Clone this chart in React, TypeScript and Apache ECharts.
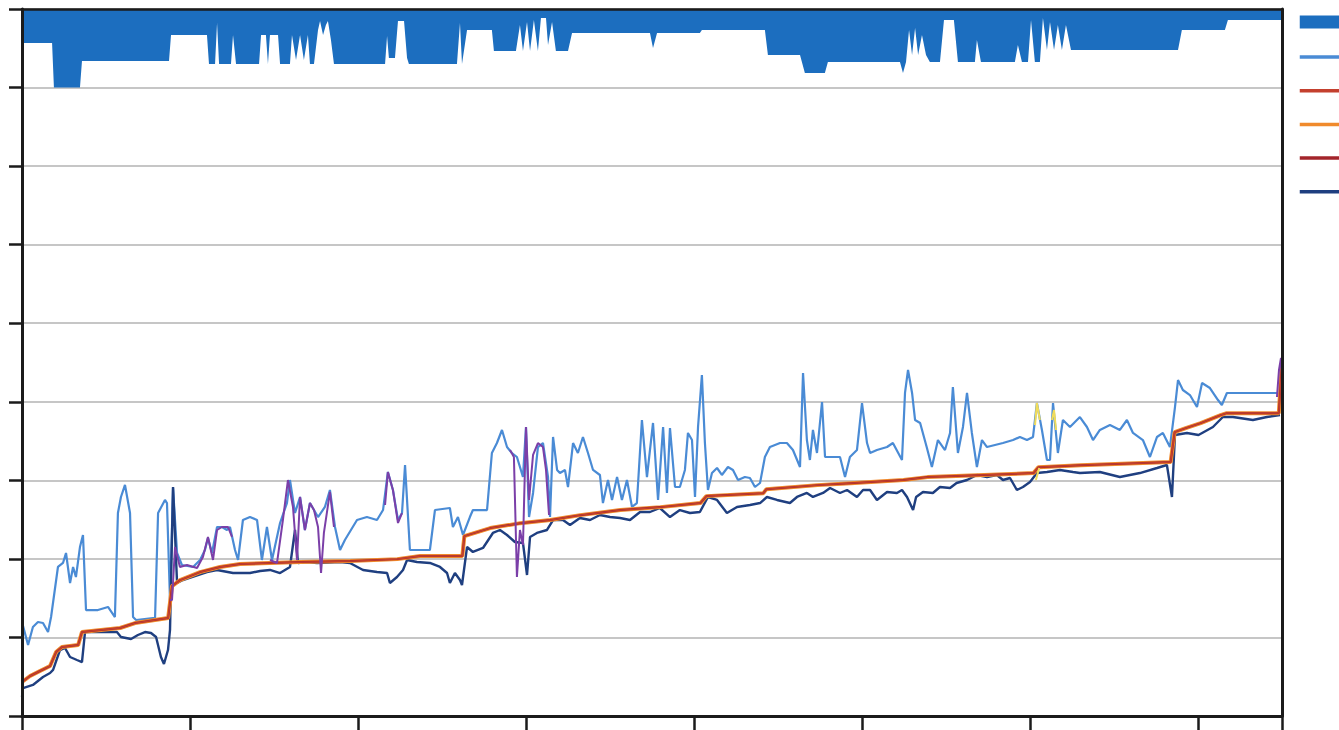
import React, { useEffect, useRef } from "react";
import * as echarts from "echarts";

// ---- top band (filled from the top of the plot down to these values) ----
const bandX = [0,17.9,19.0,34.5,35.7,87.5,88.7,110.1,111.3,114.9,116.1,117.3,124.4,125.6,127.4,141.1,142.3,145.2,146.4,147.6,152.4,153.6,159.5,160.7,163.1,165.5,167.8,170.2,171.4,173.8,176.2,177.4,179.2,180.9,182.1,183.9,185.7,216.1,217.3,218.4,222.0,223.8,227.4,229.2,230.3,258.9,260.7,261.9,264.9,279.7,280.9,294.0,296.4,298.2,300.6,302.4,304.7,307.1,308.9,311.9,313.1,315.5,317.8,325.0,327.4,373.8,375.6,378.0,403.5,404.7,442.2,444.0,463.1,466.0,477.9,479.7,522.6,524.4,526.2,528.0,529.8,531.6,533.4,535.7,538.1,540.4,546.4,548.8,554.7,557.1,567.2,568.4,570.8,591.0,592.8,595.2,598.8,600.6,602.9,605.9,607.7,610.1,611.9,614.3,616.6,619.0,621.4,624.4,627.3,688.1,690.4,716.0,717.8,750];
const bandY = [85.67,85.67,80,80,83.38,83.38,86.69,86.69,83.0,83.0,88.22,83.0,83.0,86.69,83.0,83.0,86.69,86.69,83.0,86.69,86.69,83.0,83.0,86.69,83.51,86.69,83.51,86.69,83.0,83.0,87.33,88.47,86.69,87.96,88.47,86.05,83.0,83.0,86.56,83.76,83.76,88.47,88.47,83.76,83.0,83.0,88.22,83.0,87.33,87.33,84.65,84.65,87.96,84.65,88.35,84.65,88.60,84.65,88.85,88.85,85.42,88.35,84.65,84.65,86.95,86.95,85.04,86.95,86.95,87.33,87.33,84.15,84.15,81.85,81.85,83.25,83.25,81.85,83.25,87.33,84.15,87.58,84.15,86.69,84.15,83.25,83.25,88.60,88.60,83.25,83.25,86.05,83.25,83.25,85.42,83.25,83.25,88.60,83.25,83.25,88.85,84.78,88.35,84.78,87.96,84.78,87.96,84.78,84.78,84.78,87.33,87.33,88.60,88.60];

// ---- light blue line ----
const lightX = [0,3.6,6.5,9.5,12.5,15.5,17.3,21.4,24.4,26.2,28.6,30.4,32.1,34.5,36.3,38.1,45.2,51.2,55.3,57.1,58.9,61.3,64.3,66.1,67.9,79.2,81.0,85.1,86.3,88.1,89.9,92.3,95.2,101.8,106.0,108.9,110.7,113.1,116.1,119.0,122.0,123.8,126.8,128.6,131.5,135.7,139.9,142.8,145.8,148.8,153.6,157.7,159.5,162.5,165.5,168.4,171.4,176.2,180.3,183.3,186.3,189.3,192.2,199.4,205.3,211.3,214.9,217.8,220.8,223.8,226.2,228.0,230.9,242.8,245.8,254.7,256.5,259.5,262.5,266.6,268.4,276.8,279.7,282.7,285.7,288.7,291.6,294.6,298.2,300.0,301.8,304.2,307.1,310.1,313.1,314.3,316.1,318.5,320.2,323.2,325.0,328.0,330.9,333.9,336.9,339.9,344.0,345.8,348.8,351.2,354.2,357.1,360.1,363.1,366.0,369.0,372.0,375.6,378.6,381.6,383.9,385.7,388.7,391.6,394.6,396.4,398.8,400.6,402.4,404.7,406.5,408.3,410.7,413.7,416.6,420.2,423.2,426.2,430.3,433.3,436.3,439.3,442.2,445.2,451.2,455.3,458.9,463.1,464.9,467.2,469.0,470.8,473.2,476.2,478.0,486.9,489.9,492.8,497.0,500.0,503.0,504.8,508.9,514.9,518.4,523.8,525.6,527.4,529.8,531.6,534.6,538.5,541.6,545.2,549.4,552.4,554.1,557.1,560.1,562.5,565.4,568.4,571.4,574.4,583.9,589.9,594.0,598.2,601.8,604.1,607.1,610.1,611.9,613.7,616.6,619.6,623.8,629.7,633.9,637.5,641.6,647.6,653.5,657.7,661.3,667.2,671.4,675.6,679.1,683.3,686.3,688.1,691.0,695.2,699.4,702.4,707.1,711.9,714.2,717.2,732.7,747.0];
const lightY = [11.97,9.04,11.33,11.97,11.84,10.69,12.60,18.97,19.48,20.75,16.93,18.97,17.69,21.51,23.04,13.49,13.49,13.88,12.60,25.84,27.88,29.41,25.84,12.60,12.22,12.48,25.84,27.50,27.11,14.77,29.02,20.75,19.22,18.97,19.86,21.13,22.66,20.75,24.06,24.06,23.68,24.06,21.13,19.86,24.95,25.33,24.95,19.86,24.06,19.86,24.57,27.11,30.04,25.84,27.88,23.68,27.11,25.33,26.61,28.77,24.06,21.13,22.40,24.95,25.33,24.95,26.22,31.06,28.77,24.95,25.84,31.95,21.13,21.13,26.22,26.48,24.06,25.33,23.04,25.33,26.22,26.22,33.48,34.75,36.41,34.24,33.48,32.97,30.42,36.79,25.33,28.39,34.24,34.75,30.42,25.33,35.52,31.32,30.93,31.32,29.15,34.75,33.48,35.52,33.48,31.32,30.68,27.11,30.04,27.50,30.42,27.50,30.04,26.61,27.11,37.68,30.42,37.30,27.50,36.79,28.39,36.66,29.15,29.15,31.32,36.03,35.13,27.88,36.79,43.41,34.75,28.77,30.93,31.57,30.68,31.70,31.32,30.04,30.42,30.30,29.15,29.66,32.97,34.24,34.75,34.75,33.86,31.70,43.66,35.13,32.59,36.41,33.48,39.97,32.97,32.97,30.42,32.97,33.86,39.84,34.75,33.48,33.86,34.24,34.75,32.59,41.12,44.05,41.12,37.68,37.30,34.24,31.70,35.13,33.86,36.03,41.88,33.48,36.79,41.12,36.03,31.70,35.13,34.24,34.75,35.13,35.52,35.13,35.52,39.84,36.41,32.59,32.59,39.84,33.48,37.68,36.79,38.06,36.79,35.13,36.41,37.04,36.41,37.68,36.03,35.13,32.97,35.52,36.03,34.24,39.33,42.77,41.50,40.86,39.33,42.39,41.75,40.22,39.59,41.12,41.12,41.12];

// ---- step line (red / orange / dark red) ----
const stepX = [0,4.8,10.7,16.7,20.3,23.8,33.4,35.7,58.4,67.3,87.0,89.3,94.1,106.0,117.9,129.8,165.6,195.4,223.4,237.0,262.1,263.3,278.7,296.6,314.5,332.3,356.2,380.0,403.8,407.4,441.3,443.1,473.5,493.2,524.7,539.0,568.8,602.1,605.1,630.1,683.7,686.1,692.7,701.6,713.5,717.1,748.1,750];
const stepY = [4.33,5.09,5.73,6.36,8.14,8.78,9.03,10.69,11.2,11.83,12.47,16.54,17.3,18.32,18.96,19.34,19.59,19.72,19.97,20.36,20.36,22.9,23.92,24.55,24.94,25.57,26.21,26.59,27.1,27.99,28.37,28.88,29.39,29.64,30.03,30.41,30.66,30.92,31.68,31.93,32.32,36.13,36.64,37.28,38.3,38.55,38.55,45.04];

// ---- navy line ----
const navyX = [0,0.6,6.5,12.5,16.7,18.5,22.6,25.6,28.6,32.7,35.7,37.5,46.4,56.5,58.9,64.9,69,73.2,76.8,79.8,82.7,84.5,86.9,88.1,89.9,92.3,95.8,110.1,116.1,125.6,135.7,141.7,147.6,153.6,159.5,162.5,164.3,169.6,175.6,189.3,195.2,203,211.3,217.3,219,223.2,226.8,229.2,235.1,242.8,248.8,253,254.7,257.7,260.7,261.9,264.9,268.4,274.4,280.3,284.5,288.7,293.4,298.2,300.6,302.4,306.5,312.5,316.1,322,326.2,332.1,338.1,344,350,356,361.9,367.9,373.8,379.7,385.7,391.6,397.6,403.5,408.3,413.7,419.6,425.6,433.3,439.3,443.4,449.4,457.1,461.3,467.2,470.8,476.8,481,486.9,491.1,497,500.6,504.8,508.9,514.9,520.8,523.8,526.8,530.4,532.2,536.3,542.2,546.4,552.4,556.3,562.5,568.4,574.4,580.3,583.9,588.1,592.2,595.8,600,604.1,610.1,617.8,625.6,629.7,641.6,653.5,665.4,675.6,681.5,684.5,686.3,693.4,700.3,708.9,714.8,720.8,732.7,741,748.8];
const navyY = [2.42,3.56,3.95,4.96,5.47,5.86,8.40,8.66,7.51,7.13,6.87,10.69,10.69,10.69,10.06,9.80,10.31,10.69,10.57,10.06,7.51,6.62,8.40,10.95,29.15,16.93,17.31,18.33,18.59,18.20,18.20,18.46,18.59,18.20,18.97,23.68,19.48,19.60,19.48,19.60,19.48,18.59,18.33,18.20,16.93,17.69,18.59,19.86,19.60,19.48,18.97,18.20,16.93,18.20,17.31,16.68,21.51,20.88,21.39,23.30,23.68,23.04,22.15,22.02,17.95,22.79,23.30,23.68,24.95,24.95,24.31,25.21,24.95,25.59,25.33,25.21,24.95,25.97,25.97,26.48,25.33,26.22,25.84,25.97,27.88,27.50,25.84,26.61,26.86,27.11,27.88,27.50,27.11,27.88,28.39,27.88,28.39,29.02,28.39,28.77,27.88,28.77,28.77,27.50,28.52,28.39,28.77,27.88,26.22,27.88,28.52,28.39,29.15,29.02,29.66,30.04,30.68,30.42,30.68,30.04,30.30,28.77,29.15,29.79,30.93,31.06,31.32,31.06,30.93,31.06,30.42,30.93,31.57,31.95,27.88,35.77,36.03,35.77,36.79,38.06,38.06,37.68,38.06,38.32];

// ---- purple segments ----
const purpleAX = [88.1,89.3,91.1,94.0,98.2,104.2,107.7,110.7,113.7,116.1,119.0,122.6,125.0];
const purpleAY = [14.77,14.77,21.51,18.97,19.22,18.84,20.24,22.79,19.86,23.68,24.06,24.06,22.79];
const purpleBX = [147.6,151.8,155.3,158.3,161.3,163.7,165.5,168.4,171.4,173.8,176.2,178.0,179.7,183.3,185.7];
const purpleBY = [19.86,19.48,24.95,30.04,26.61,19.86,27.88,23.68,27.11,26.22,24.06,18.20,23.30,28.52,24.06];
const purpleCX = [216.1,217.8,220.8,223.8,226.2];
const purpleCY = [26.86,31.06,28.77,24.57,25.84];
const purpleDX = [290.5,292.8,294.6,296.4,298.2,300.0,301.8,304.2,307.1,310.1,311.9,313.7];
const purpleDY = [33.86,32.97,17.69,23.68,21.77,36.79,27.50,33.23,34.75,34.24,31.32,25.59];
const purpleEX = [747.0,748.2,749.4,750];
const purpleEY = [40.61,44.05,45.57,43.41];

// ---- yellow segments ----
const yellowAX = [603.0,604.1,605.9];
const yellowAY = [37.04,39.84,37.68];
const yellowBX = [613.1,614.3,615.5];
const yellowBY = [37.68,38.95,36.41];
const yellowCX = [603.5,605.5];
const yellowCY = [30.04,31.57];

const pairs = (xs: number[], ys: number[]) => xs.map((x, i) => [x, ys[i]]);
const segments = (segs: [number[], number[]][]) => {
  const out: any[] = [];
  segs.forEach(([xs, ys], k) => {
    if (k > 0) out.push([xs[0], "-"]);
    out.push(...pairs(xs, ys));
  });
  return out;
};

const AXIS = "#1b1b1b";

export default function App() {
  const ref = useRef<HTMLDivElement>(null);
  useEffect(() => {
    const chart = echarts.init(ref.current as HTMLDivElement, null, { renderer: "svg" });
    const lineBase = { type: "line", showSymbol: false, symbol: "none", xAxisIndex: 0, yAxisIndex: 0 };
    const legendLine = { lineStyle: { width: 3.5 }, itemStyle: { opacity: 0 } };
    chart.setOption({
      animation: false,
      backgroundColor: "#ffffff",
      grid: { left: 22, right: 57, top: 9, bottom: 14, containLabel: false },
      legend: {
        orient: "vertical",
        left: 1293,
        top: 10.5,
        itemWidth: 46,
        itemHeight: 13,
        itemGap: 22,
        selectedMode: false,
        formatter: () => "",
        data: [
          { name: "Band", icon: "rect" },
          { name: "Upper", ...legendLine },
          { name: "Median", ...legendLine },
          { name: "Mean", ...legendLine },
          { name: "Fit", ...legendLine },
          { name: "Lower", ...legendLine },
        ],
      },
      xAxis: [
        {
          type: "value", min: 0, max: 750, interval: 100, position: "bottom", z: 10,
          axisLine: { show: true, onZero: false, lineStyle: { color: AXIS, width: 3 } },
          axisTick: { show: true, length: 14, lineStyle: { color: AXIS, width: 2.5 } },
          axisLabel: { show: false }, splitLine: { show: false },
        },
        {
          type: "value", min: 0, max: 750, position: "top", z: 10,
          axisLine: { show: true, onZero: false, lineStyle: { color: AXIS, width: 2.5 } },
          axisTick: { show: false }, axisLabel: { show: false }, splitLine: { show: false },
        },
      ],
      yAxis: [
        {
          type: "value", min: 0, max: 90, interval: 10, position: "left",
          axisLine: { show: false }, axisTick: { show: false }, axisLabel: { show: false },
          splitLine: { show: true, lineStyle: { color: "#b3b3b3", width: 1.5 } },
        },
        {
          type: "value", min: 0, max: 90, interval: 10, position: "left", z: 10,
          axisLine: { show: true, onZero: false, lineStyle: { color: AXIS, width: 3 } },
          axisTick: { show: true, length: 13, lineStyle: { color: AXIS, width: 2.5 } },
          axisLabel: { show: false }, splitLine: { show: false },
        },
        {
          type: "value", min: 0, max: 90, interval: 10, position: "right", z: 10,
          axisLine: { show: true, onZero: false, lineStyle: { color: AXIS, width: 3 } },
          axisTick: { show: false }, axisLabel: { show: false }, splitLine: { show: false },
        },
      ],
      series: [
        {
          ...lineBase, name: "Band", color: "#1c6ebf",
          data: pairs(bandX, bandY),
          lineStyle: { width: 0, color: "#1c6ebf" },
          areaStyle: { origin: "end", color: "#1c6ebf", opacity: 1 },
          z: 1,
        },
        {
          ...lineBase, name: "Upper", color: "#4a8bd5",
          data: pairs(lightX, lightY),
          lineStyle: { width: 2.2, color: "#4a8bd5" }, z: 2,
        },
        {
          ...lineBase, name: "Lower", color: "#1f3f80",
          data: pairs(navyX, navyY),
          lineStyle: { width: 2.4, color: "#1f3f80" }, z: 3,
        },
        {
          ...lineBase, name: "Mean", color: "#f08a2c",
          data: pairs(stepX, stepY),
          lineStyle: { width: 4, color: "#f08a2c" }, z: 4,
        },
        {
          ...lineBase, name: "Fit", color: "#a3242a",
          data: pairs(stepX, stepY),
          lineStyle: { width: 2, color: "#a3242a" }, z: 5,
        },
        {
          ...lineBase, name: "Median", color: "#c4402e",
          data: pairs(stepX, stepY),
          lineStyle: { width: 1.4, color: "#c4402e" }, z: 6,
        },
        {
          ...lineBase, name: "Extra", color: "#7b3fa8",
          data: segments([[purpleAX, purpleAY], [purpleBX, purpleBY], [purpleCX, purpleCY], [purpleDX, purpleDY], [purpleEX, purpleEY]]),
          lineStyle: { width: 2, color: "#7b3fa8" }, z: 7,
        },
        {
          ...lineBase, name: "Extra2", color: "#f1dc5a",
          data: segments([[yellowAX, yellowAY], [yellowBX, yellowBY], [yellowCX, yellowCY]]),
          lineStyle: { width: 2, color: "#f1dc5a" }, z: 8,
        },
      ],
    });
    return () => chart.dispose();
  }, []);
  return (
    <div
      ref={ref}
      style={{ position: "fixed", left: 0, top: 0, width: 1339, height: 730, background: "#fff" }}
    />
  );
}
